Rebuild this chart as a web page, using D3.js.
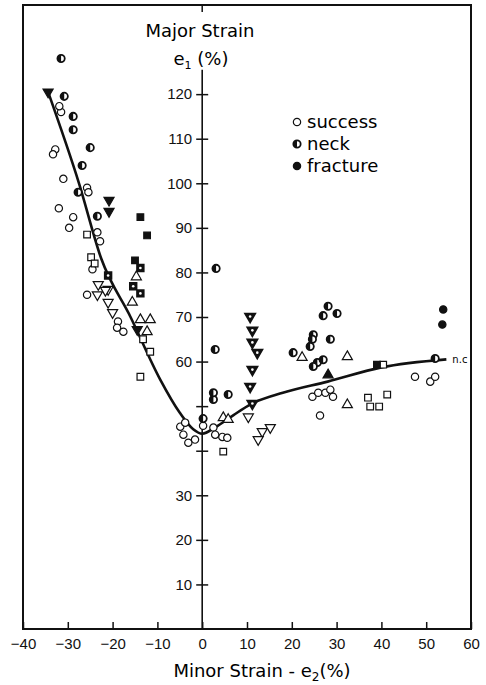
<!DOCTYPE html>
<html lang="en">
    <head>
        <meta charset="utf-8">
        <title>Forming limit diagram</title>
        <script type="text/javascript" src="https://d3js.org/d3.v7.min.js"></script>
        <style>
            body { margin: 0; background: #fff; }
            svg { display: block; font-family: "DejaVu Sans", sans-serif; }
            .axis text { font-size: 15px; fill: #111; }
            .axis line { stroke: #111; stroke-width: 1.5; }
        </style>
    </head>
    <body>
        <script>
            // tick values
            const xTicks = [-40, -30, -20, -10, 0, 10, 20, 30, 40, 50, 60];
            const yTicks = [10, 20, 30, 40, 50, 60, 70, 80, 90, 100, 110, 120];
            const yHiddenLabels = [40, 50];   // covered by data in the original

            // forming limit curve  [e2, e1]
            const limitCurve = [[-34.4,120.5],[-27.5,100],[-22.5,83],[-16,70],[-9.4,56],[-5,48.5],[-2,44.8],[0,43.8],
                                [3,45.3],[7,48],[11,50.5],[18,53],[28,55.5],[40,58.7],[54.5,60.5]];

            // open circles = success
            const successCircles = [[-31.5,116],[-31.9,117.3],[-32.8,107.6],[-33.3,106.5],[-31,101],[-25.7,99],[-25.4,98],
                [-28.8,92.4],[-29.7,90],[-23.4,89],[-22.8,87],[-24.5,80.7],[-25.7,75],[-32,94.4],[-18.8,69],[-17.6,66.7],
                [-19,67.6],[-4.9,45.4],[-4.2,43.6],[-3.1,41.8],[-1.6,42.5],[-3.8,46.3],[0.2,45.6],[2.5,45.2],[4.5,43.1],
                [5.6,42.9],[2.9,43.6],[24.6,52.1],[25.9,53],[27.5,53],[28.6,53.7],[29.2,52.1],[26.3,47.9],[50.9,55.5],
                [47.5,56.6],[52,56.6]];
            // half filled circles = neck
            const neckCircles = [[-31.5,128],[-30.8,119.5],[-28.8,115],[-28.8,112],[-25,108],[-26.8,104],[-27.7,98],
                [-23.4,92.6],[3.1,80.9],[2.9,62.7],[2.5,51.5],[2.5,53],[5.8,52.6],[0.2,47.2],[28.1,72.4],[27,70.3],
                [30.1,70.8],[24.8,66],[24.6,65],[24.1,63.4],[28.6,65],[20.3,62],[25.7,59.8],[27,60.4],[24.8,58.9],[52,60.7]];
            // filled circles = fracture
            const fractureCircles = [[53.8,71.7],[53.6,68.3]];

            const successSquares = [[-25.7,88.5],[-24.8,83.4],[-24,82],[-13.2,65],[-11.6,62.2],[-13.8,56.6],[4.7,39.8],
                [37,51.9],[37.5,49.9],[39.5,49.9],[41.3,52.6],[40.4,59.3]];
            const neckSquares = [[-21,79.3],[-15.4,76.9],[-13.8,75.3],[-13.8,81]];
            const fractureSquares = [[-13.8,92.4],[-12.3,88.3],[-15,82.7],[39,59.3]];

            const successTriangles = [[-14.7,79],[-15.6,73.3],[-13.8,69.4],[-11.6,69.4],[-12.3,66.7],[4.7,47.4],[5.8,47],
                [32.4,61.1],[32.4,50.3],[22.3,60.9]];
            const successTrianglesDown = [[-23.2,77.3],[-21,76.2],[-23.4,75],[-21.6,76],[-21,73.3],[-20,71],[10.3,47.6],
                [13.4,44.3],[12.5,42.5],[15.2,45.2]];
            const neckTrianglesDown = [[10.7,70.1],[11.2,67],[11.2,64.3],[12.3,62],[11.2,58.2],[10.7,54.4],[11.2,50.6]];
            const fractureTrianglesDown = [[-34.4,120.5],[-20.8,96.2],[-20.8,93.7],[-14.5,67.2]];
            const fractureTriangles = [[28.1,57]];

            const legendItems = ["success", "neck", "fracture"];

            // svg
            const w = 486;
            const h = 685;
            const svg = d3.select("body")
                        .append("svg")
                        .attr("width", w)
                        .attr("height", h);

            const xScale = d3.scaleLinear().domain([-40, 60]).range([23, 471]);
            const yScale = d3.scaleLinear().domain([0, 140]).range([629, 5]);

            // frame
            svg.append("rect")
                .attr("x", xScale(-40))
                .attr("y", yScale(140))
                .attr("width", xScale(60) - xScale(-40))
                .attr("height", yScale(0) - yScale(140))
                .attr("fill", "none")
                .attr("stroke", "#111")
                .attr("stroke-width", 2);

            // x axis, ticks pointing up
            const xAxis = d3.axisBottom(xScale)
                            .tickValues(xTicks)
                            .tickSize(-7)
                            .tickPadding(9)
                            .tickFormat(d3.format("d"));
            svg.append("g")
                .attr("class", "x axis")
                .attr("transform", `translate(0,${yScale(0)})`)
                .call(xAxis)
                .call(g => g.select(".domain").remove());

            // y axis on e2 = 0, ticks crossing the line
            const yAxis = d3.axisLeft(yScale)
                            .tickValues(yTicks)
                            .tickSize(5)
                            .tickPadding(5)
                            .tickFormat(d => yHiddenLabels.includes(d) ? "" : d);
            svg.append("g")
                .attr("class", "y axis")
                .attr("transform", `translate(${xScale(0)},0)`)
                .call(yAxis)
                .call(g => g.select(".domain").remove())
                .call(g => g.selectAll(".tick line").attr("x2", -6).attr("x1", 6));

            svg.append("line")
                .attr("x1", xScale(0)).attr("x2", xScale(0))
                .attr("y1", yScale(0)).attr("y2", yScale(125.5))
                .attr("stroke", "#111").attr("stroke-width", 1.6);
            svg.append("line")
                .attr("x1", xScale(0)).attr("x2", xScale(0))
                .attr("y1", yScale(140)).attr("y2", yScale(140) + 7)
                .attr("stroke", "#111").attr("stroke-width", 1.5);

            // titles
            svg.append("text")
                .attr("x", 200).attr("y", 37)
                .attr("text-anchor", "middle")
                .style("font-size", "18px")
                .text("Major Strain");
            const e1 = svg.append("text")
                .attr("x", 201).attr("y", 65)
                .attr("text-anchor", "middle")
                .style("font-size", "18px");
            e1.append("tspan").text("e");
            e1.append("tspan").attr("dy", 4).style("font-size", "11px").text("1");
            e1.append("tspan").attr("dy", -4).text(" (%)");

            const xl = svg.append("text")
                .attr("x", 262).attr("y", 677)
                .attr("text-anchor", "middle")
                .style("font-size", "18px");
            xl.append("tspan").text("Minor Strain - e");
            xl.append("tspan").attr("dy", 4).style("font-size", "12px").text("2");
            xl.append("tspan").attr("dy", -4).text("(%)");

            // curve
            const line = d3.line()
                        .x(d => xScale(d[0]))
                        .y(d => yScale(d[1]))
                        .curve(d3.curveMonotoneX);
            svg.append("path")
                .datum(limitCurve)
                .attr("d", line)
                .attr("fill", "none")
                .attr("stroke", "#111")
                .attr("stroke-width", 2.6);

            svg.append("text")
                .attr("x", xScale(54.5) + 6).attr("y", yScale(60.5) + 4)
                .style("font-size", "10px")
                .text("n.c");

            // marker helpers
            const ink = "#111";
            const sym = {
                circle: d3.symbol().type(d3.symbolCircle).size(42),
                square: d3.symbol().type(d3.symbolSquare).size(44),
                triangle: d3.symbol().type(d3.symbolTriangle).size(44)
            };
            const halfDisk = "M0,-3.7A3.7,3.7 0 0,0 0,3.7Z";

            function drawSet(data, shape, kind, rotate) {
                const g = svg.append("g");
                const m = g.selectAll("g")
                    .data(data)
                    .enter()
                    .append("g")
                    .attr("transform", d => `translate(${xScale(d[0])},${yScale(d[1])})` + (rotate ? " rotate(180)" : ""));
                const neckFill = shape === "circle" ? "#fff" : ink;
                m.append("path")
                    .attr("d", sym[shape]())
                    .attr("fill", kind === "fracture" ? ink : (kind === "neck" ? neckFill : "#fff"))
                    .attr("stroke", ink)
                    .attr("stroke-width", kind === "neck" ? 1.8 : 1.2);
                if (kind === "neck") {
                    if (shape === "circle") {
                        m.append("path").attr("d", halfDisk).attr("fill", ink);
                    } else {
                        m.append("circle").attr("r", 1.3).attr("fill", "#fff");
                    }
                }
            }

            drawSet(successCircles, "circle", "success");
            drawSet(successSquares, "square", "success");
            drawSet(successTriangles, "triangle", "success");
            drawSet(successTrianglesDown, "triangle", "success", true);
            drawSet(neckCircles, "circle", "neck");
            drawSet(neckSquares, "square", "neck");
            drawSet(neckTrianglesDown, "triangle", "neck", true);
            drawSet(fractureCircles, "circle", "fracture");
            drawSet(fractureSquares, "square", "fracture");
            drawSet(fractureTrianglesDown, "triangle", "fracture", true);
            drawSet(fractureTriangles, "triangle", "fracture");

            // legend
            const legend = svg.append("g")
                .attr("transform", "translate(297,122)");
            const li = legend.selectAll("g")
                .data(legendItems)
                .enter()
                .append("g")
                .attr("transform", (d, i) => `translate(0,${i * 22})`);
            li.append("path")
                .attr("d", sym.circle())
                .attr("fill", d => d === "fracture" ? ink : "#fff")
                .attr("stroke", ink)
                .attr("stroke-width", d => d === "neck" ? 1.8 : 1.2);
            li.filter(d => d === "neck")
                .append("path")
                .attr("d", halfDisk)
                .attr("fill", ink);
            li.append("text")
                .attr("x", 10)
                .attr("y", 6)
                .style("font-size", "18px")
                .text(d => d);
        </script>
    </body>
</html>
